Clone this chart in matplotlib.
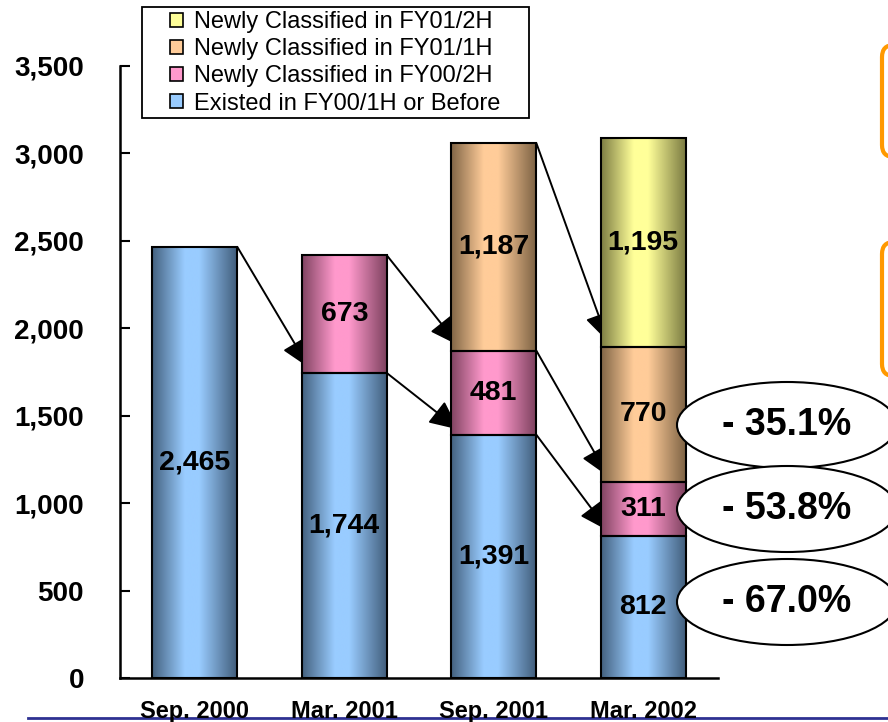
import numpy as np
import matplotlib
matplotlib.use("Agg")
import matplotlib.pyplot as plt
from matplotlib.patches import Patch, Ellipse, FancyBboxPatch, Rectangle
from matplotlib.lines import Line2D

plt.rcParams['font.family'] = ['Liberation Sans', 'DejaVu Sans']

categories = ["Sep. 2000", "Mar. 2001", "Sep. 2001", "Mar. 2002"]
existed = [2465, 1744, 1391, 812]
fy00_2h = [0, 673, 481, 311]
fy01_1h = [0, 0, 1187, 770]
fy01_2h = [0, 0, 0, 1195]
series_names = ["Existed in FY00/1H or Before", "Newly Classified in FY00/2H",
                "Newly Classified in FY01/1H", "Newly Classified in FY01/2H"]
pct_labels = ["- 35.1%", "- 53.8%", "- 67.0%"]
yticks = [0, 500, 1000, 1500, 2000, 2500, 3000, 3500]

series = [existed, fy00_2h, fy01_1h, fy01_2h]
light = ['#99ccff', '#ff99cc', '#ffcc99', '#ffff99']
dark = ['#3f5b78', '#7a3f5c', '#7a6042', '#77773f']

W, H = 888, 722
fig = plt.figure(figsize=(W / 100, H / 100), dpi=100)
ax = fig.add_axes([120 / W, 1 - 678 / H, (718 - 120) / W, (678 - 66) / H])

x = np.arange(len(categories))
bw = 0.57

def grad(d, l):
    t = np.linspace(0, 1, 200)
    b = np.interp(t, [0, 0.38, 0.55, 1], [0.05, 1, 1, 0.0])
    d = np.array(matplotlib.colors.to_rgb(d))
    l = np.array(matplotlib.colors.to_rgb(l))
    img = d[None, :] + (l - d)[None, :] * b[:, None]
    return img[None, :, :]

bottom = np.zeros(len(categories))
tops = []
for k, vals in enumerate(series):
    vals = np.array(vals, dtype=float)
    bars = ax.bar(x, vals, bw, bottom=bottom, facecolor='none',
                  edgecolor='black', linewidth=1.5, zorder=3)
    img = grad(dark[k], light[k])
    for i, p in enumerate(bars.patches):
        if vals[i] <= 0:
            p.set_visible(False)
            continue
        x0, y0 = p.get_x(), p.get_y()
        ax.imshow(img, extent=[x0, x0 + p.get_width(), y0, y0 + p.get_height()],
                  aspect='auto', clip_path=p, zorder=2.5, interpolation='bilinear')
        ax.text(x[i], y0 + vals[i] / 2, f"{int(vals[i]):,}", ha='center', va='center',
                fontsize=20.5, fontweight='bold', zorder=5)
    bottom = bottom + vals
    tops.append(bottom.copy())

# arrows: from top-right corner of a segment to the matching segment of next bar
cum = np.array(tops)
arrow_pairs = [((0, 0), (1, 0)), ((1, 1), (2, 1)), ((1, 0), (2, 0)),
               ((2, 2), (3, 2)), ((2, 1), (3, 1)), ((2, 0), (3, 0))]
for (i, ks), (j, kt) in arrow_pairs:
    sx, sy = x[i] + bw / 2, cum[ks][i]
    tx, ty = x[j] - bw / 2 + 0.05, cum[kt][j] + 30
    ax.annotate("", xy=(tx, ty), xytext=(sx, sy),
                arrowprops=dict(arrowstyle='-|>,head_length=0.9,head_width=0.42',
                                mutation_scale=20, color='black', lw=1.4,
                                shrinkA=0, shrinkB=0), zorder=2)

ax.set_xlim(-0.5, 3.5)
ax.set_ylim(0, 3500)
ax.set_xticks(x)
ax.set_xticklabels(categories, fontsize=17, fontweight='bold')
ax.set_yticks(yticks)
ax.set_yticklabels([f"{v:,}" for v in yticks], fontsize=20, fontweight='bold')
ax.tick_params(axis='x', length=0, pad=16)
ax.tick_params(axis='y', direction='in', length=7, width=1.5, pad=26)
for s in ['top', 'right']:
    ax.spines[s].set_visible(False)
for s in ['left', 'bottom']:
    ax.spines[s].set_linewidth(1.8)

# legend (frame drawn separately to match the box)
handles = [Patch(facecolor=light[k], edgecolor='black', linewidth=1.2) for k in range(4)][::-1]
leg = fig.legend(handles, series_names[::-1], loc='upper left',
                 bbox_to_anchor=(170 / W, 1 - 11 / H), fontsize=17,
                 frameon=False, handlelength=0.55, handleheight=0.55,
                 handletextpad=0.45, labelspacing=0.22, borderpad=0,
                 borderaxespad=0)
fig.add_artist(Rectangle((142 / W, 1 - 118 / H), (529 - 142) / W, (118 - 7) / H,
                         transform=fig.transFigure, facecolor='none',
                         edgecolor='black', lw=1.3))

# ellipses with percentages
ell_y = [425, 509, 602]
for yy, lab in zip(ell_y, pct_labels):
    e = Ellipse((787 / W, 1 - yy / H), 220 / W, 86 / H, transform=fig.transFigure,
                facecolor='white', edgecolor='black', lw=1.5)
    fig.add_artist(e)
    fig.text(787 / W, 1 - yy / H, lab, ha='center', va='center', fontsize=27,
             fontweight='bold')

# orange boxes partially visible at the right edge
for (yt, yb) in [(45, 157), (242, 376)]:
    fb = FancyBboxPatch((882 / 100, (H - yb) / 100), 1.0, (yb - yt) / 100,
                        boxstyle='round,pad=0,rounding_size=0.12',
                        transform=fig.dpi_scale_trans, facecolor='white',
                        edgecolor='#ff9900', lw=3)
    fig.add_artist(fb)

fig.add_artist(Line2D([28 / W, 1], [1 - 718 / H] * 2, color='#2e3192', lw=2,
                      transform=fig.transFigure, zorder=0))

fig.savefig("out.png", dpi=100)
